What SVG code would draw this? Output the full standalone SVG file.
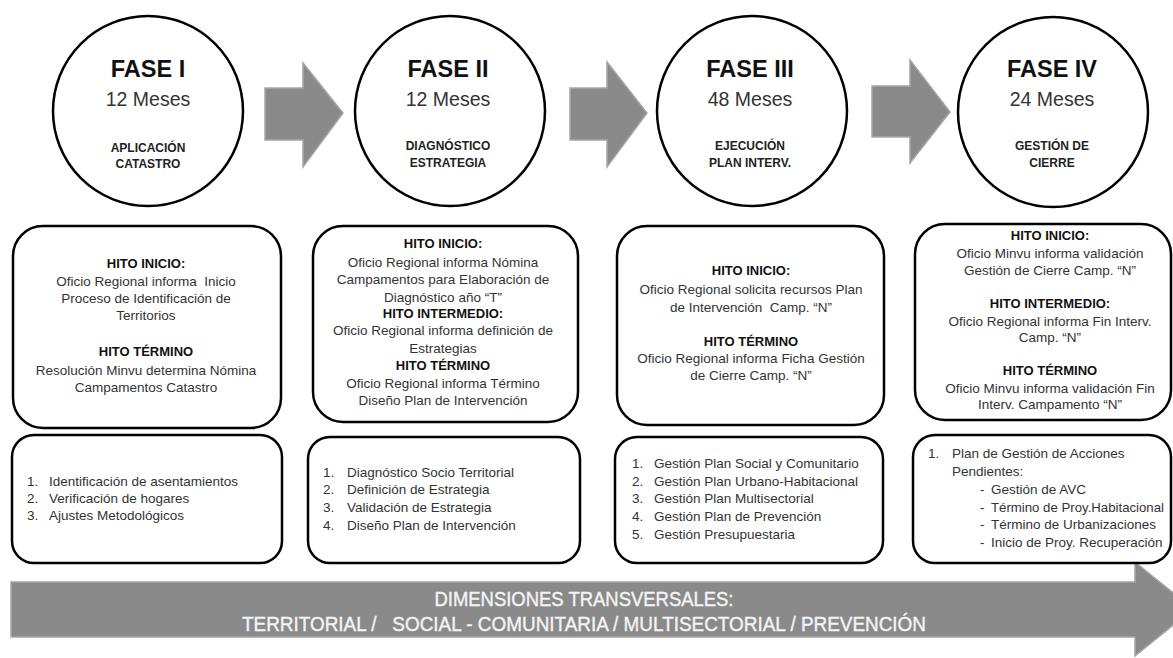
<svg xmlns="http://www.w3.org/2000/svg" width="1173" height="658" viewBox="0 0 1173 658">
<style>
text{font-family:"Liberation Sans",Arial,sans-serif;}
.circ{fill:#fff;stroke:#000;stroke-width:2.5;}
.box{fill:#fff;stroke:#000;stroke-width:2.5;}
.arr{fill:#8a8a8a;stroke:#a6a6a6;stroke-width:1.5;}
.fase{font-size:23.5px;font-weight:bold;fill:#111;text-anchor:middle;}
.mes{font-size:19.5px;fill:#333;text-anchor:middle;}
.sub{font-size:12px;font-weight:bold;fill:#222;text-anchor:middle;}
.hd{font-size:13px;font-weight:bold;fill:#111;text-anchor:middle;}
.tx{font-size:13.5px;fill:#333;text-anchor:middle;}
.li{font-size:13.5px;fill:#333;}
.big{font-size:21px;fill:#f4f4f4;text-anchor:middle;stroke:#f4f4f4;stroke-width:0.4;}
</style>
<rect width="1173" height="658" fill="#fff"/>
<g id="connectors">
<path class="arr" d="M265,88 H303 V63 L343,113 L303,167 V140 H265 Z"/>
<path class="arr" d="M570,88 H607 V62 L647,113 L607,167 V140 H570 Z"/>
<path class="arr" d="M872,86 H910 V60 L950,112 L910,163 V137 H872 Z"/>
<path class="arr" d="M11,582 H1135 V562 L1193,609 L1135,656 V637 H11 Z"/>
</g>
<g id="dimensiones">
<text class="big" x="584" y="606" textLength="299" lengthAdjust="spacingAndGlyphs">DIMENSIONES TRANSVERSALES:</text>
<text class="big" x="584" y="631" textLength="684" lengthAdjust="spacingAndGlyphs" xml:space="preserve">TERRITORIAL /   SOCIAL - COMUNITARIA / MULTISECTORIAL / PREVENCIÓN</text>
</g>
<g id="fase1">
<circle class="circ" cx="148" cy="111" r="95"/>
<text class="fase" x="148" y="77">FASE I</text>
<text class="mes" x="148" y="106">12 Meses</text>
<text class="sub" x="148" y="152">APLICACIÓN</text>
<text class="sub" x="148" y="168">CATASTRO</text>
</g>
<g id="fase2">
<circle class="circ" cx="450" cy="111" r="95"/>
<text class="fase" x="448" y="77">FASE II</text>
<text class="mes" x="448" y="106">12 Meses</text>
<text class="sub" x="448" y="150">DIAGNÓSTICO</text>
<text class="sub" x="448" y="167">ESTRATEGIA</text>
</g>
<g id="fase3">
<circle class="circ" cx="752" cy="111" r="95"/>
<text class="fase" x="750" y="77">FASE III</text>
<text class="mes" x="750" y="106">48 Meses</text>
<text class="sub" x="750" y="150">EJECUCIÓN</text>
<text class="sub" x="750" y="167">PLAN INTERV.</text>
</g>
<g id="fase4">
<circle class="circ" cx="1053" cy="112" r="95"/>
<text class="fase" x="1052" y="77">FASE IV</text>
<text class="mes" x="1052" y="106">24 Meses</text>
<text class="sub" x="1052" y="150">GESTIÓN DE</text>
<text class="sub" x="1052" y="167">CIERRE</text>
</g>
<g id="hitos1">
<rect class="box" x="13" y="226" width="268" height="202" rx="30"/>
<text class="hd" x="146" y="268">HITO INICIO:</text>
<text class="tx" x="146" y="286" xml:space="preserve">Oficio Regional informa  Inicio</text>
<text class="tx" x="146" y="303">Proceso de Identificación de</text>
<text class="tx" x="146" y="320">Territorios</text>
<text class="hd" x="146" y="356">HITO TÉRMINO</text>
<text class="tx" x="146" y="375">Resolución Minvu determina Nómina</text>
<text class="tx" x="146" y="392">Campamentos Catastro</text>
</g>
<g id="hitos2">
<rect class="box" x="313" y="226" width="265" height="196" rx="30"/>
<text class="hd" x="443" y="248">HITO INICIO:</text>
<text class="tx" x="443" y="267">Oficio Regional  informa Nómina</text>
<text class="tx" x="443" y="284">Campamentos para Elaboración de</text>
<text class="tx" x="443" y="302">Diagnóstico año “T”</text>
<text class="hd" x="443" y="318">HITO INTERMEDIO:</text>
<text class="tx" x="443" y="335">Oficio Regional informa definición de</text>
<text class="tx" x="443" y="353">Estrategias</text>
<text class="hd" x="443" y="370">HITO TÉRMINO</text>
<text class="tx" x="443" y="388">Oficio Regional informa Término</text>
<text class="tx" x="443" y="405">Diseño Plan de Intervención</text>
</g>
<g id="hitos3">
<rect class="box" x="617" y="226" width="267" height="199" rx="30"/>
<text class="hd" x="751" y="275">HITO INICIO:</text>
<text class="tx" x="751" y="294">Oficio Regional solicita recursos Plan</text>
<text class="tx" x="751" y="312" xml:space="preserve">de Intervención  Camp. “N”</text>
<text class="hd" x="751" y="346">HITO TÉRMINO</text>
<text class="tx" x="751" y="363">Oficio Regional informa Ficha Gestión</text>
<text class="tx" x="751" y="380">de Cierre Camp. “N”</text>
</g>
<g id="hitos4">
<rect class="box" x="915" y="224" width="256" height="196" rx="30"/>
<text class="hd" x="1050" y="240">HITO INICIO:</text>
<text class="tx" x="1050" y="258">Oficio Minvu informa validación</text>
<text class="tx" x="1050" y="275">Gestión de Cierre Camp. “N”</text>
<text class="hd" x="1050" y="308">HITO INTERMEDIO:</text>
<text class="tx" x="1050" y="326">Oficio Regional informa Fin Interv.</text>
<text class="tx" x="1050" y="342">Camp. “N”</text>
<text class="hd" x="1050" y="375">HITO TÉRMINO</text>
<text class="tx" x="1050" y="393">Oficio Minvu informa validación Fin</text>
<text class="tx" x="1050" y="409">Interv. Campamento “N”</text>
</g>
<g id="acciones1">
<rect class="box" x="12" y="435" width="270" height="128" rx="22"/>
<text class="li" x="27" y="486">1.</text><text class="li" x="49" y="486">Identificación de asentamientos</text>
<text class="li" x="27" y="503">2.</text><text class="li" x="49" y="503">Verificación de hogares</text>
<text class="li" x="27" y="520">3.</text><text class="li" x="49" y="520">Ajustes Metodológicos</text>
</g>
<g id="acciones2">
<rect class="box" x="308" y="437" width="272" height="126" rx="22"/>
<text class="li" x="323" y="477">1.</text><text class="li" x="347" y="477">Diagnóstico Socio Territorial</text>
<text class="li" x="323" y="494">2.</text><text class="li" x="347" y="494">Definición de Estrategia</text>
<text class="li" x="323" y="512">3.</text><text class="li" x="347" y="512">Validación de Estrategia</text>
<text class="li" x="323" y="530">4.</text><text class="li" x="347" y="530">Diseño Plan de Intervención</text>
</g>
<g id="acciones3">
<rect class="box" x="615" y="437" width="268" height="126" rx="22"/>
<text class="li" x="632" y="468">1.</text><text class="li" x="654" y="468">Gestión Plan Social y Comunitario</text>
<text class="li" x="632" y="486">2.</text><text class="li" x="654" y="486">Gestión Plan Urbano-Habitacional</text>
<text class="li" x="632" y="503">3.</text><text class="li" x="654" y="503">Gestión Plan Multisectorial</text>
<text class="li" x="632" y="521">4.</text><text class="li" x="654" y="521">Gestión Plan de Prevención</text>
<text class="li" x="632" y="539">5.</text><text class="li" x="654" y="539">Gestión Presupuestaria</text>
</g>
<g id="acciones4">
<rect class="box" x="913" y="435" width="258" height="128" rx="22"/>
<text class="li" x="928" y="458">1.</text><text class="li" x="952" y="458">Plan de Gestión de Acciones</text>
<text class="li" x="952" y="476">Pendientes:</text>
<text class="li" x="980" y="494">-</text><text class="li" x="991" y="494">Gestión de AVC</text>
<text class="li" x="980" y="512">-</text><text class="li" x="991" y="512" textLength="173" lengthAdjust="spacingAndGlyphs">Término de Proy.Habitacional</text>
<text class="li" x="980" y="529">-</text><text class="li" x="991" y="529">Término de Urbanizaciones</text>
<text class="li" x="980" y="547">-</text><text class="li" x="991" y="547">Inicio de Proy. Recuperación</text>
</g>
</svg>
